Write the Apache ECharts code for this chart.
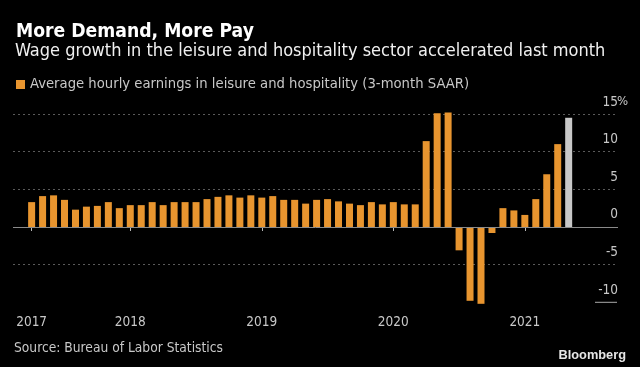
<!DOCTYPE html>
<html><head><meta charset="utf-8">
<script src="https://cdn.jsdelivr.net/npm/echarts@6/dist/echarts.min.js"></script>
<style>html,body{margin:0;padding:0;background:#000;}#c{width:640px;height:367px;}</style>
</head><body><div id="c"></div>
<script>
// Months (Apr 2017 - May 2021)
var months = ['2017-04','2017-05','2017-06','2017-07','2017-08','2017-09','2017-10','2017-11','2017-12',
'2018-01','2018-02','2018-03','2018-04','2018-05','2018-06','2018-07','2018-08','2018-09','2018-10','2018-11','2018-12',
'2019-01','2019-02','2019-03','2019-04','2019-05','2019-06','2019-07','2019-08','2019-09','2019-10','2019-11','2019-12',
'2020-01','2020-02','2020-03','2020-04','2020-05','2020-06','2020-07','2020-08','2020-09','2020-10','2020-11','2020-12',
'2021-01','2021-02','2021-03','2021-04','2021-05'];
// Average hourly earnings, leisure & hospitality, 3-month SAAR (%)
var values = [3.3,4.1,4.2,3.6,2.3,2.7,2.8,3.3,2.5,
2.9,2.9,3.3,2.9,3.3,3.3,3.3,3.7,4.0,4.2,3.9,4.2,
3.9,4.1,3.6,3.6,3.1,3.6,3.7,3.4,3.1,2.9,3.3,3.0,
3.3,3.0,3.0,11.4,15.1,15.2,-3.1,-9.8,-10.2,-0.8,2.5,2.2,
1.6,3.7,7.0,11.0,14.5];
var yTicks = [-10,-5,0,5,10,15];
var seriesName = 'Average hourly earnings in leisure and hospitality (3-month SAAR)';

var FONT = "'Liberation Sans Narrow','DejaVu Sans Condensed','Liberation Sans',sans-serif";
var ORANGE = '#e8952f', GREY = '#c8c8c8';

var tickIdx = [], tickLab = {};
months.forEach(function(m, i){
  if (i === 0 || m.slice(5) === '01') { tickIdx.push(i); tickLab[i] = m.slice(0,4); }
});
var data = values.map(function(v, i){
  return i === values.length - 1 ? {value:[i, v], itemStyle:{color:GREY}} : [i, v];
});

var chart = echarts.init(document.getElementById('c'), null, {renderer:'canvas'});
chart.setOption({
  backgroundColor:'#000',
  animation:false,
  title:[
    {text:'More Demand, More Pay', left:11, top:18, textStyle:{color:'#fff', fontFamily:FONT, fontSize:19.2, fontWeight:'bold'}},
    {text:'Wage growth in the leisure and hospitality sector accelerated last month', left:10, top:37, textStyle:{color:'#f0f0f0', fontFamily:FONT, fontSize:18, fontWeight:'normal'}},
    {text:'Source: Bureau of Labor Statistics', left:9, top:336, textStyle:{color:'#c8c8c8', fontFamily:FONT, fontSize:13.7, fontWeight:'normal'}},
    {text:'Bloomberg', right:9, top:344, textStyle:{color:'#e6e6e6', fontFamily:"'Liberation Sans','Arial',sans-serif", fontSize:12.8, fontWeight:'bold'}}
  ],
  legend:{left:16, top:77, icon:'rect', itemWidth:9, itemHeight:9, padding:0,
    textStyle:{color:'#c8c8c8', fontFamily:FONT, fontSize:14.7}, data:[seriesName]},
  grid:{left:13, right:22, top:114, bottom:64.7, containLabel:false},
  xAxis:{type:'value', min:-1.7, max:53.5,
    splitLine:{show:false}, axisLine:{show:false},
    axisTick:{show:true, customValues:tickIdx, length:4, lineStyle:{color:'#bbb'}},
    axisLabel:{customValues:tickIdx, margin:13, color:'#c8c8c8', fontFamily:FONT, fontSize:13.5,
      formatter:function(v){ return tickLab[Math.round(v)] || ''; }}
  },
  yAxis:{type:'value', position:'right', min:-10, max:15, interval:5,
    axisLine:{show:false}, axisTick:{show:false},
    splitLine:{show:true, lineStyle:{type:[2,3], width:1, color:['rgba(0,0,0,0)','#5a5a5a','rgba(0,0,0,0)','#5a5a5a','#5a5a5a','#5a5a5a']}},
    axisLabel:{margin:9, align:'right', verticalAlign:'bottom', padding:[0,0,5,0], color:'#c8c8c8', fontFamily:FONT, fontSize:13.5,
      formatter:function(v){ return v === 15 ? v + '{p|%}' : v + '{p| }'; },
      rich:{p:{width:9, align:'left', color:'#c8c8c8', fontFamily:FONT, fontSize:13}}}
  },
  series:[{
    name:seriesName, type:'bar', barWidth:7, clip:false, color:ORANGE,
    data:data,
    markLine:{silent:true, symbol:'none', label:{show:false},
      lineStyle:{color:'#8a8a8a', type:'solid', width:1}, data:[{yAxis:0}]}
  }]
});
// short underline beneath the lowest axis label
var p0 = chart.convertToPixel({xAxisIndex:0, yAxisIndex:0}, [53.5, yTicks[0]]);
chart.setOption({graphic:[{type:'line', shape:{x1:p0[0]-23, y1:p0[1], x2:p0[0]-1, y2:p0[1]}, style:{stroke:'#aaa', lineWidth:1}}]});
</script>
</body></html>
